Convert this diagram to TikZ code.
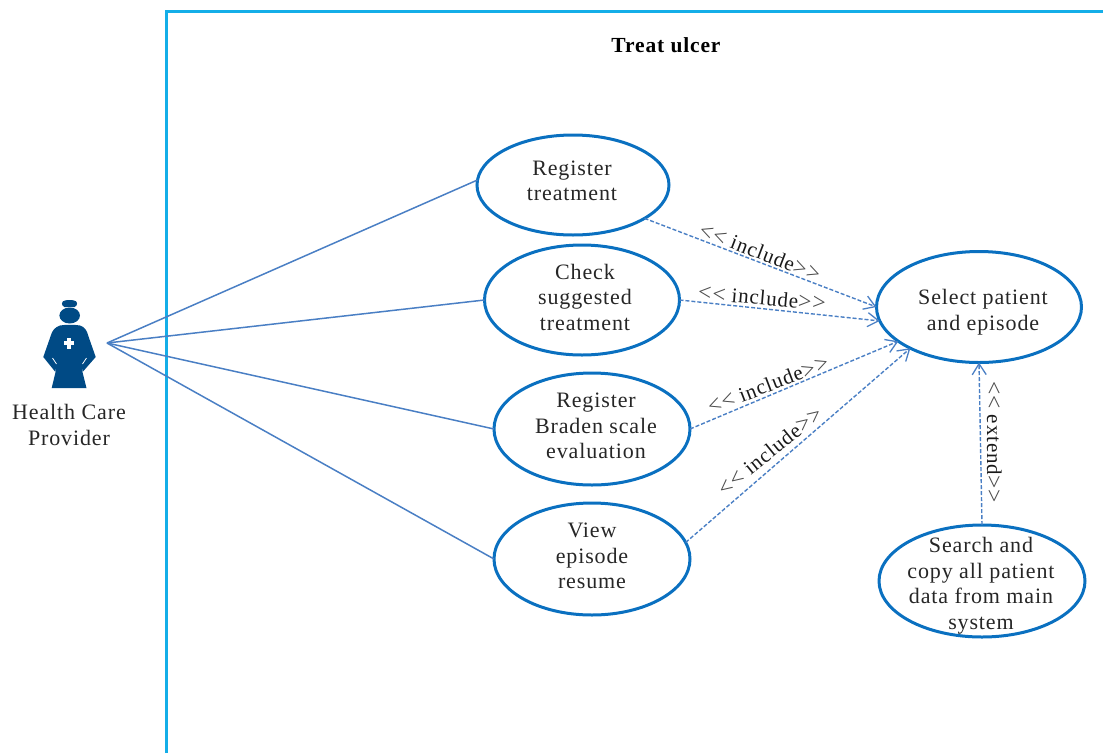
\documentclass[tikz,border=0pt]{standalone}
\usepackage{fontspec}
\setmainfont[LetterSpace=4]{Liberation Serif}
\usetikzlibrary{arrows.meta,shapes.geometric}
\definecolor{framec}{HTML}{14AEE8}
\definecolor{ringc}{HTML}{0A70C0}
\definecolor{linec}{HTML}{4A7FC4}
\definecolor{nursec}{HTML}{004A85}
\newcommand{\opena}{\raisebox{-.6pt}{\textcolor{black!70}{\fontsize{23.5}{24}\selectfont{<}{<}}}}
\newcommand{\closea}{\raisebox{-.6pt}{\textcolor{black!70}{\fontsize{23.5}{24}\selectfont{>}{>}}}}
\newcommand{\inclabel}{\opena{} include\closea}
\newcommand{\extlabel}{\opena{} extend\closea}
\tikzset{
  usecase/.style={draw=ringc,line width=3pt,ellipse,inner sep=0pt,outer sep=0pt},
  txt/.style={align=center,font=\fontsize{22}{25.5}\selectfont,text=black!85,inner sep=0pt},
  stereo/.style={font=\fontsize{21}{24}\selectfont,text=black!90,inner sep=0pt},
  assoc/.style={draw=linec,line width=1.5pt},
  dep/.style={draw=linec,line width=1.4pt,dash pattern=on 4pt off 2pt,-{Straight Barb[length=11pt,width=14pt,line width=1.3pt]}}
}
\begin{document}
\begin{tikzpicture}[x=1pt,y=-1pt]
\useasboundingbox (0,0) rectangle (1103,753);
% system boundary
\draw[framec,line width=3pt] (166,753) -- (166,11) -- (1103,11);
\node[inner sep=0pt,font=\fontsize{21.5}{24}\selectfont\bfseries] (title) at (666,45) {Treat ulcer};
% use cases
\node[usecase,minimum width=192pt,minimum height=100pt] (reg) at (573,185) {};
\node[usecase,minimum width=195pt,minimum height=110pt] (chk) at (582,300) {};
\node[usecase,minimum width=196pt,minimum height=112pt] (brd) at (592,429) {};
\node[usecase,minimum width=196pt,minimum height=112pt] (view) at (592,559) {};
\node[usecase,minimum width=205pt,minimum height=111pt] (sel) at (979,307) {};
\node[usecase,minimum width=206pt,minimum height=112pt] (srch) at (982,581) {};
\node[txt] (regt) at (572,181) {Register\\treatment};
\node[txt] (chkt) at (585,297) {Check\\suggested\\treatment};
\node[txt] (brdt) at (596,426) {Register\\Braden scale\\evaluation};
\node[txt] (viewt) at (592,556) {View\\episode\\resume};
\node[txt] (selt) at (983,312) {Select patient\\and episode};
\node[txt] (srcht) at (981,585.5) {Search and\\copy all patient\\data from main\\system};
% actor
\coordinate (act) at (107,343);
\fill[nursec,rounded corners=1.5pt] (61.5,302) -- (66,300) -- (73,300) -- (77.5,302) -- (76,307) -- (63,307) -- cycle;
\fill[nursec] (69.7,315.5) ellipse (10.3pt and 8pt);
\fill[nursec] (60,325.5) .. controls (66,324.5) and (74,324.5) .. (80,325.5)
  .. controls (85,327) and (87,331) .. (88,335) -- (95.7,357) -- (83,371.5) -- (81,366)
  -- (86.5,388) -- (51.7,388) -- (57,366) -- (55,371.5) -- (43.3,357) -- (51,335)
  .. controls (52,331) and (55,327) .. (60,325.5) -- cycle;
\draw[white,line width=.8pt] (52.5,358) -- (56.5,364);
\draw[white,line width=.8pt] (86.5,358) -- (82.5,364);
\fill[white] (66.5,338) rectangle (70.5,348.5);
\fill[white] (63.5,341.2) rectangle (73.5,345.2);
\node[txt] (actl) at (69,425) {Health Care\\Provider};
% associations
\draw[assoc] (act) -- (reg.177);
\draw[assoc] (act) -- (chk.west);
\draw[assoc] (act) -- (brd.west);
\draw[assoc] (act) -- (view.west);
% dependencies
\draw[dep] (reg.-25) -- (sel.180);
\draw[dep] (chk.0) -- (sel.-172);
\draw[dep] (brd.0) -- (sel.-157);
\draw[dep] (view.10) -- (sel.-149);
\draw[dep] (srch.north) -- (sel.south);
% stereotypes
\node[stereo,rotate=-21] (i1) at (760,252) {\inclabel};
\node[stereo,rotate=-5] (i2) at (762,298) {\inclabel};
\node[stereo,rotate=21] (i3) at (768,385) {\inclabel};
\node[stereo,rotate=39] (i4) at (770,451) {\inclabel};
\node[stereo,rotate=-90] (e1) at (994,442) {\extlabel};
\end{tikzpicture}
\end{document}
